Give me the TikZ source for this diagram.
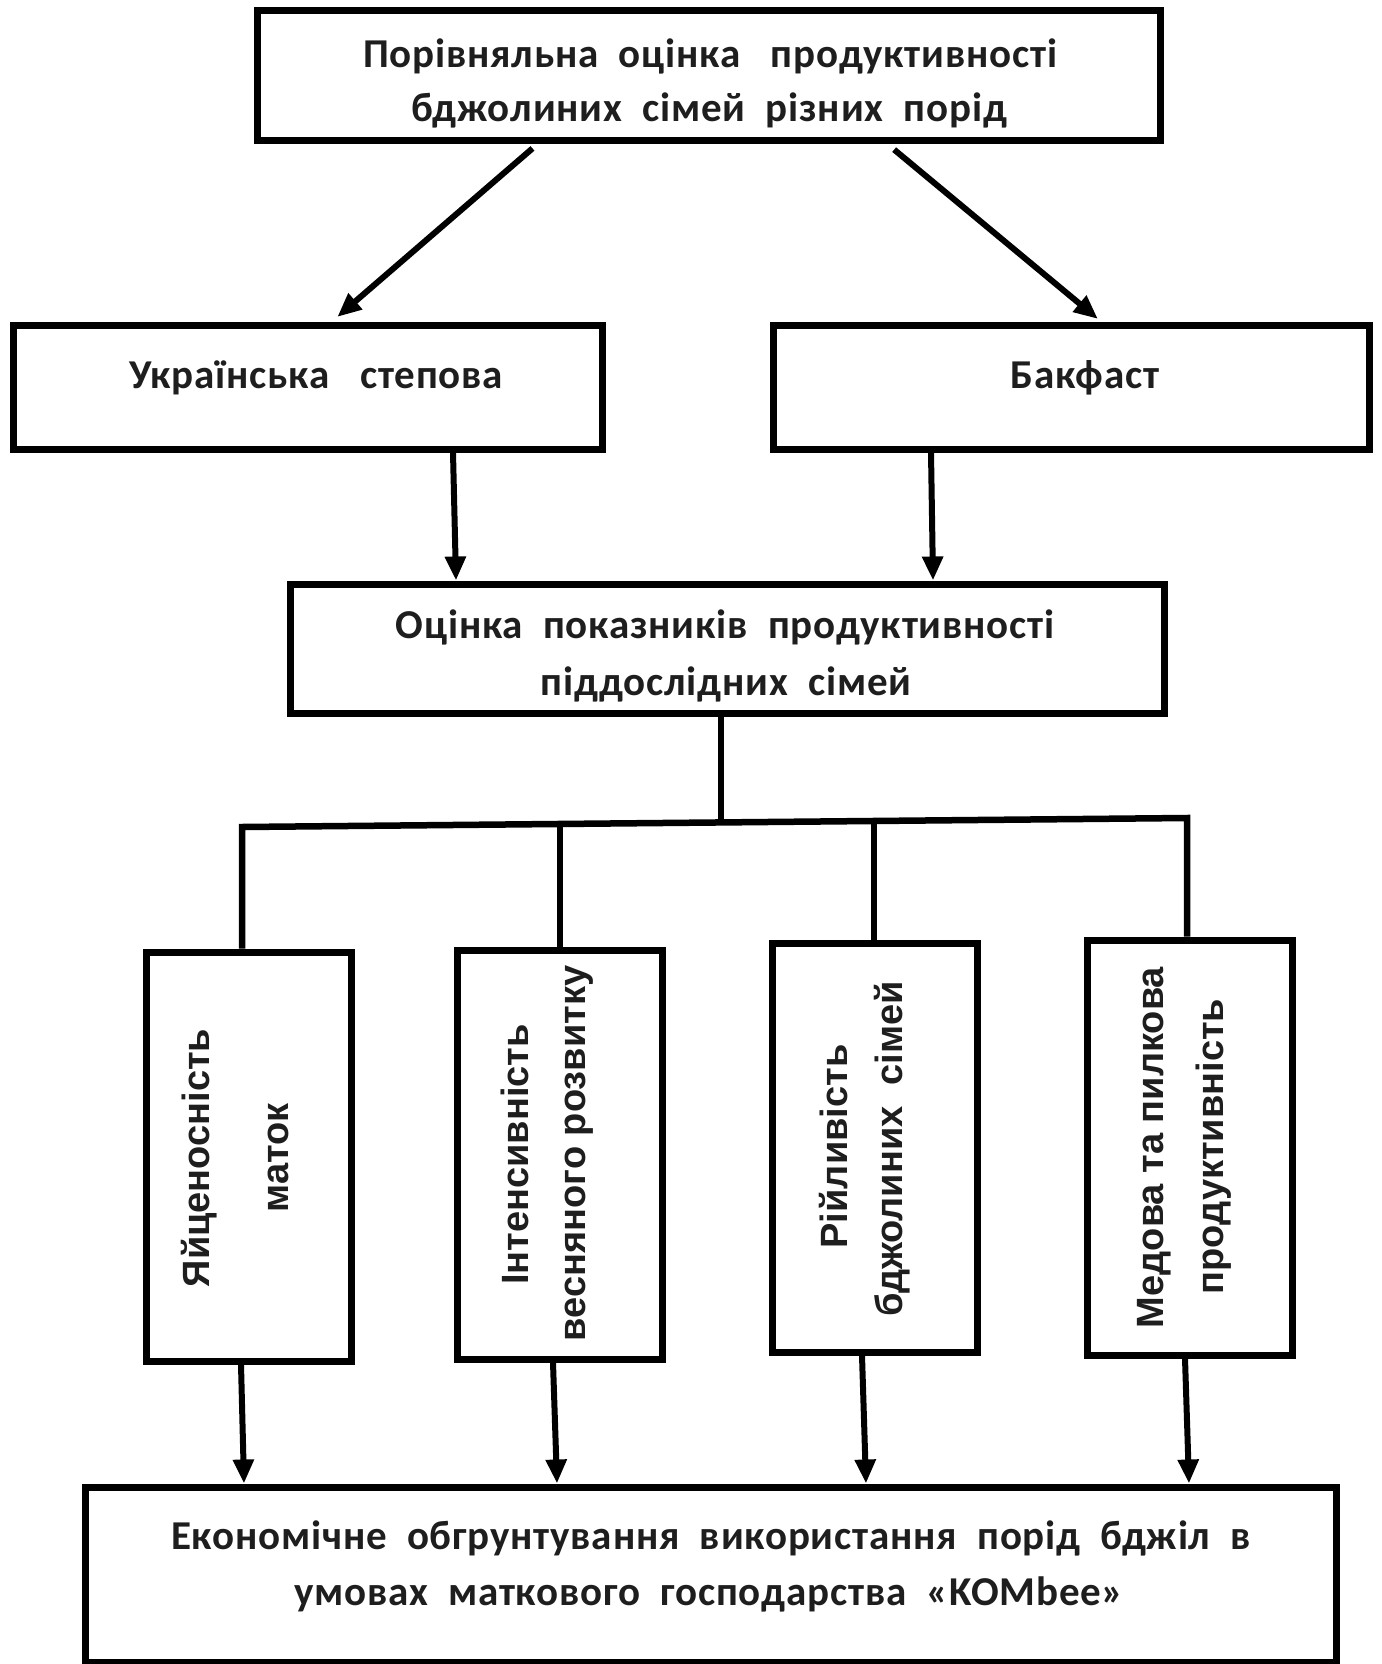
\documentclass[tikz,border=0pt]{standalone}
\usepackage{fontspec}
\setmainfont{Carlito}
\newfontfamily\hfont[LetterSpace=2]{Carlito}
\newfontfamily\vfont{Liberation Sans}
\usetikzlibrary{arrows.meta}
\definecolor{txt}{HTML}{1E1E1E}
\begin{document}
\begin{tikzpicture}[x=1pt,y=-1pt,
  box/.style={draw=black, line width=7pt, inner sep=0pt, fill=white},
  ht/.style={anchor=base, inner sep=0pt, text=txt, font={\hfont\bfseries\fontsize{41}{48}\selectfont}},
  vt/.style={anchor=mid, rotate=90, inner sep=0pt, text=txt, font={\vfont\bfseries\fontsize{38}{46}\selectfont}},
  conn/.style={draw=black, line width=6.5pt, line join=miter},
  arr/.style={draw=black, line width=6pt, -{Triangle[length=24pt,width=20pt]}}]
\useasboundingbox[fill=white] (0,0) rectangle (1381,1664);

% boxes
\node[box, minimum width=903pt, minimum height=130pt] (top) at (708.5,76) {};
\node[box, minimum width=589pt, minimum height=124pt] (ua) at (307.5,387) {};
\node[box, minimum width=596pt, minimum height=124pt] (bak) at (1071,387) {};
\node[box, minimum width=874pt, minimum height=129pt] (mid) at (727,648.5) {};
\node[box, minimum width=205pt, minimum height=409pt] (b1) at (248.5,1156.5) {};
\node[box, minimum width=205pt, minimum height=409pt] (b2) at (559.5,1154.5) {};
\node[box, minimum width=205pt, minimum height=409pt] (b3) at (874.5,1147.5) {};
\node[box, minimum width=205pt, minimum height=415pt] (b4) at (1189.5,1147.5) {};
\node[box, minimum width=1251pt, minimum height=175pt] (bot) at (710.5,1574.5) {};

% texts
\node[ht] (t1a) at (710,68) {Порівняльна~~оцінка~~~продуктивності};
\node[ht] (t1b) at (709,122) {бджолиних~~сімей~~різних~~порід};
\node[ht] (tua) at (316,388) {Українська~~~степова};
\node[ht] (tbak) at (1085,388) {Бакфаст};
\node[ht] (tma) at (725,638) {Оцінка~~показників~~продуктивності};
\node[ht] (tmb) at (726,695) {піддослідних~~сімей};
\node[ht] (tba) at (711,1549) {Економічне~~обгрунтування~~використання~~порід~~бджіл~~в};
\node[ht] (tbb) at (709,1605) {умовах~~маткового~~господарства~~«KOMbee»};

\node[vt] (v1a) at (207,1158) {Яйценосність};
\node[vt] (v1b) at (286,1158) {маток};
\node[vt] (v2a) at (526,1154.5) {Інтенсивність};
\node[vt] (v2b) at (583,1153.5) {весняного розвитку};
\node[vt] (v3a) at (845,1146.5) {Рійливість};
\node[vt] (v3b) at (900,1148.5) {бджолиних~~сімей};
\node[vt] (v4a) at (1161,1147.5) {Медова та пилкова};
\node[vt] (v4b) at (1221,1146.5) {продуктивність};

% arrows top -> breeds
\draw[arr, shorten <=6pt, shorten >=7pt] (537,0 |- top.south) -- (332,0 |- ua.north);
\draw[arr, shorten <=8pt, shorten >=4pt] (888,0 |- top.south) -- (1101,0 |- bak.north);

% breeds -> mid
\draw[arr] (453,0 |- ua.south) -- (456,0 |- mid.north);
\draw[arr] (931,0 |- bak.south) -- (933,0 |- mid.north);

% bus
\coordinate (bL) at (242,827);
\coordinate (bR) at (1187,818);
\coordinate (bm) at (721,822.4);
\coordinate (bq2) at (560,824);
\coordinate (bq3) at (874,821);
\draw[conn] ([xshift=-6pt]mid.south) -- (bm);
\draw[conn] (bL |- b1.north) -- (bL) -- (bR) -- (bR |- b4.north);
\draw[conn] (bq2) -- (bq2 |- b2.north);
\draw[conn] (bq3) -- (bq3 |- b3.north);

% boxes -> bottom
\draw[arr] (241,0 |- b1.south) -- (244,0 |- bot.north);
\draw[arr] (553,0 |- b2.south) -- (557,0 |- bot.north);
\draw[arr] (862,0 |- b3.south) -- (866,0 |- bot.north);
\draw[arr] (1185,0 |- b4.south) -- (1189,0 |- bot.north);
\end{tikzpicture}
\end{document}
